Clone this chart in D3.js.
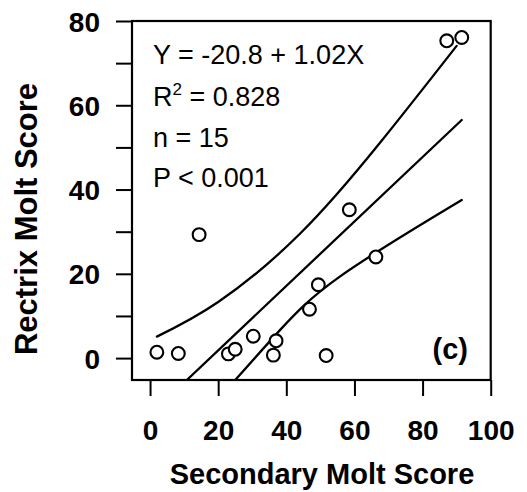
<!DOCTYPE html>
<html>
<head>
<meta charset="utf-8">
<script src="https://cdn.jsdelivr.net/npm/d3@7"></script>
<style>
  html, body { margin: 0; padding: 0; background: #fff; }
  svg { display: block; }
  text { font-family: "Liberation Sans", Arial, Helvetica, sans-serif; fill: #000; }
</style>
</head>
<body>
<svg id="chart" width="527" height="492"></svg>
<script>
// ---- data ----
const secondaryScore = [2, 8.3, 14.4, 23, 25, 30.3, 37, 36.2, 46.8, 49.4, 51.7, 58.5, 66.3, 87.1, 91.5];
const rectrixScore   = [1.4, 1.1, 29.3, 1, 2.1, 5.2, 4.1, 0.7, 11.6, 17.4, 0.6, 35.2, 24, 75.3, 76.1];

// fitted line and confidence band
const fitX   = [10.8, 91.5];
const fitY   = [-5.2, 56.5];
const upperX = [2, 20, 44, 67.5, 90.0];
const upperY = [5.1, 13.3, 29.5, 51.1, 74.1];
const lowerX = [25.0, 38.2, 55.8, 91.5];
const lowerY = [-5.2, 6.7, 19.4, 37.5];

const xTicks = [0, 20, 40, 60, 80, 100];
const yTicks = [0, 10, 20, 30, 40, 50, 60, 70, 80];
const yLabels = [0, 20, 40, 60, 80];

const annotationLines = ["Y = -20.8 + 1.02X", "R2 = 0.828", "n = 15", "P < 0.001"];
const panelLabel = "(c)";
const xTitle = "Secondary Molt Score";
const yTitle = "Rectrix Molt Score";

// ---- drawing ----
const svg = d3.select("#chart");
const pL = 132, pR = 490.7, pT = 21, pB = 380;

const x = d3.scaleLinear().domain([-5.3, 100]).range([pL, pR]);
const y = d3.scaleLinear().domain([-5.2, 80]).range([pB, pT]);

// axes
const xAxis = svg.append("g")
  .attr("transform", `translate(0,${pB})`)
  .call(d3.axisBottom(x).tickValues(xTicks).tickSize(16).tickFormat(d3.format("d")));
xAxis.select(".domain").remove();
xAxis.selectAll(".tick line").attr("stroke", "#000").attr("stroke-width", 2);
xAxis.selectAll(".tick text")
  .attr("y", 60).attr("dy", 0)
  .style("font-size", "28px").style("font-weight", "bold")
  .style("font-family", '"Liberation Sans", Arial, sans-serif').attr("fill", "#000");

const yAxis = svg.append("g")
  .attr("transform", `translate(${pL},0)`)
  .call(d3.axisLeft(y).tickValues(yTicks).tickSize(16)
    .tickFormat(d => yLabels.includes(d) ? d : ""));
yAxis.select(".domain").remove();
yAxis.selectAll(".tick line").attr("stroke", "#000").attr("stroke-width", 2);
yAxis.selectAll(".tick text")
  .attr("x", -32).attr("dy", "0.36em")
  .style("font-size", "28px").style("font-weight", "bold")
  .style("font-family", '"Liberation Sans", Arial, sans-serif').attr("fill", "#000");

// frame
svg.append("rect")
  .attr("x", pL).attr("y", pT)
  .attr("width", pR - pL).attr("height", pB - pT)
  .attr("fill", "none").attr("stroke", "#000").attr("stroke-width", 2.2);

// clip for lines
svg.append("clipPath").attr("id", "plotclip")
  .append("rect").attr("x", pL).attr("y", pT)
  .attr("width", pR - pL).attr("height", pB - pT);

const lineGen = d3.line().x(d => x(d[0])).y(d => y(d[1])).curve(d3.curveNatural);
const lines = svg.append("g").attr("clip-path", "url(#plotclip)");
[[upperX, upperY], [fitX, fitY], [lowerX, lowerY]].forEach(([xs, ys]) => {
  lines.append("path")
    .datum(xs.map((v, i) => [v, ys[i]]))
    .attr("d", lineGen)
    .attr("fill", "none").attr("stroke", "#000").attr("stroke-width", 2.3)
    .attr("stroke-linecap", "round");
});

// points
svg.append("g").selectAll("circle")
  .data(secondaryScore.map((v, i) => [v, rectrixScore[i]]))
  .join("circle")
  .attr("cx", d => x(d[0])).attr("cy", d => y(d[1]))
  .attr("r", 6.4)
  .attr("fill", "#fff").attr("stroke", "#000").attr("stroke-width", 2.1);

// annotation
const ann = svg.append("g").style("font-size", "27px");
const baselines = [64, 106, 147, 187];
annotationLines.forEach((t, i) => {
  const txt = ann.append("text").attr("x", 153).attr("y", baselines[i]);
  if (t.startsWith("R2")) {
    txt.append("tspan").text("R");
    txt.append("tspan").attr("dy", -11).style("font-size", "17px").text("2");
    txt.append("tspan").attr("dy", 11).text(t.slice(2));
  } else {
    txt.text(t);
  }
});

svg.append("text")
  .attr("x", 468).attr("y", 359).attr("text-anchor", "end")
  .style("font-size", "29px").style("font-weight", "bold")
  .text(panelLabel);

// axis titles
svg.append("text")
  .attr("x", 322).attr("y", 484).attr("text-anchor", "middle")
  .style("font-size", "29px").style("font-weight", "bold")
  .text(xTitle);

svg.append("text")
  .attr("transform", "translate(37,219) rotate(-90)")
  .attr("text-anchor", "middle")
  .style("font-size", "31px").style("font-weight", "bold")
  .text(yTitle);
</script>
</body>
</html>
